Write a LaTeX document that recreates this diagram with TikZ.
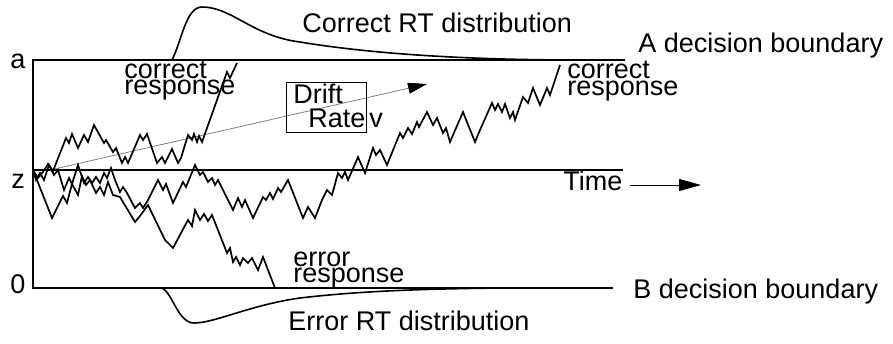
\documentclass[tikz,border=0pt]{standalone}
\usepackage{fontspec}
\setmainfont{Liberation Sans}
\usetikzlibrary{arrows.meta}

\begin{document}
\begin{tikzpicture}[
  x=0.5pt, y=-0.5pt,
  bound/.style={line width=1.2pt},
  walk/.style={line width=0.85pt},
  dist/.style={line width=0.8pt},
  lbl/.style={anchor=base west, inner sep=0pt, font=\fontsize{13.5}{14}\selectfont},
  arrow/.style={-{Triangle[length=11pt, width=6pt]}, line width=0.4pt}
]
\useasboundingbox (0,0) rectangle (893,343);

% Boundaries
\coordinate (atop) at (33,60);
\coordinate (aend) at (625,60);
\coordinate (bzero) at (33,288);
\coordinate (bend) at (613,288);
\coordinate (zstart) at (33,170);
\coordinate (zend) at (623,170);
\draw[bound] (aend) -- (atop) -- (bzero) -- (bend);
\draw[bound] (zstart) -- (zend);

% Axis labels
\node[lbl] (alab) at (10,68) {a};
\node[lbl] (zlab) at (11,188) {z};
\node[lbl] (olab) at (10,293) {0};
\node[lbl] (abound) at (638,52) {A decision boundary};
\node[lbl] (bbound) at (633,298) {B decision boundary};

% RT distributions
\draw[dist] (172,60) .. controls (182,40) and (186,7) .. (202,7)
  .. controls (232,7) and (252,36) .. (300,42)
  .. controls (360,52) and (450,60) .. (580,60);
\draw[dist] (162,288) .. controls (172,292) and (178,323) .. (194,323)
  .. controls (215,323) and (250,305) .. (300,298)
  .. controls (360,291) and (420,289) .. (500,288);
\node[lbl] (cdist) at (302,32) {Correct RT distribution};
\node[lbl] (edist) at (288,330) {Error RT distribution};

% Drift rate
\coordinate (dstart) at (50,170);
\coordinate (dtip) at (427,84);
\draw[gray, line width=0.4pt, -{Triangle[length=9.5pt, width=5.5pt, color=black]}] (dstart) -- (dtip);
\node[draw, line width=0.5pt, minimum width=40pt, minimum height=25pt, inner sep=0pt] (ratebox) at (326,107) {};
\node[lbl] (drift) at (293,103) {Drift};
\node[lbl] (rate) at (308,127) {Rate};
\node[lbl] (vlab) at (369,127) {v};

% Time axis
\node[lbl] (time) at (563,190) {Time};
\coordinate (tstart) at (630,185);
\coordinate (tend) at (701,185);
\draw[arrow] (tstart) -- (tend);

% Sample paths
\draw[walk] plot coordinates {(33,170) (38,178) (43,172) (48,164) (53,171) (66,138) (69,143) (72,134)
  (78,148) (84,135) (88,142) (94,125) (104,143) (106,140) (113,152) (116,148) (122,163) (125,157)
  (128,163) (140,135) (143,140) (147,134) (157,163) (162,157) (165,163) (172,149) (178,163) (181,158)
  (188,135) (192,140) (194,134) (197,142) (199,136) (202,142) (227,72) (230,78) (237,63)};
\draw[walk] plot coordinates {(33,170) (36,180) (40,173) (44,180) (49,165) (54,175) (58,170) (64,190)
  (69,178) (72,184) (78,165) (84,183) (88,177) (92,183) (96,177) (100,183) (104,173) (107,178)
  (111,168) (115,180) (120,192) (123,187) (127,193) (135,208) (140,203) (143,208) (148,200)
  (158,180) (163,190) (166,184) (173,203) (183,182) (186,187) (195,165) (200,175) (203,172)
  (208,182) (212,178) (215,185) (218,180) (233,210) (238,198) (242,207) (245,200) (253,218)
  (263,197) (266,200) (270,193) (273,199) (278,188) (281,192) (288,180) (303,218) (308,207)
  (315,218) (322,200) (327,190) (332,195) (338,173) (342,178) (345,172) (348,180) (358,157)
  (365,173) (373,148) (376,155) (380,150) (387,165) (400,133) (403,138) (408,128) (412,134)
  (417,122) (419,127) (427,112) (433,125) (437,118) (443,133) (446,128) (450,142) (463,112)
  (475,142) (480,130) (492,103) (495,110) (498,104) (502,112) (505,104) (510,118) (513,112)
  (515,120) (523,97) (528,103) (533,88) (540,105) (547,88) (550,95) (560,65)};
\draw[walk] plot coordinates {(33,170) (52,218) (63,196) (67,203) (72,184) (78,195) (82,176)
  (86,185) (90,180) (96,193) (100,187) (104,195) (108,182) (113,195) (120,197) (135,222)
  (140,216) (148,205) (165,240) (173,248) (188,220) (192,226) (195,210) (200,220) (204,214)
  (208,221) (212,215) (227,253) (230,248) (233,262) (236,257) (240,265) (243,258) (248,263)
  (252,258) (258,270) (263,257) (275,288)};

% Response labels
\node[lbl] (ctop) at (124,78) {correct};
\node[lbl] (cbot) at (124,94) {response};
\node[lbl] (rtop) at (567,78) {correct};
\node[lbl] (rbot) at (567,95) {response};
\node[lbl] (etop) at (293,266) {error};
\node[lbl] (ebot) at (293,282) {response};

\end{tikzpicture}
\end{document}
